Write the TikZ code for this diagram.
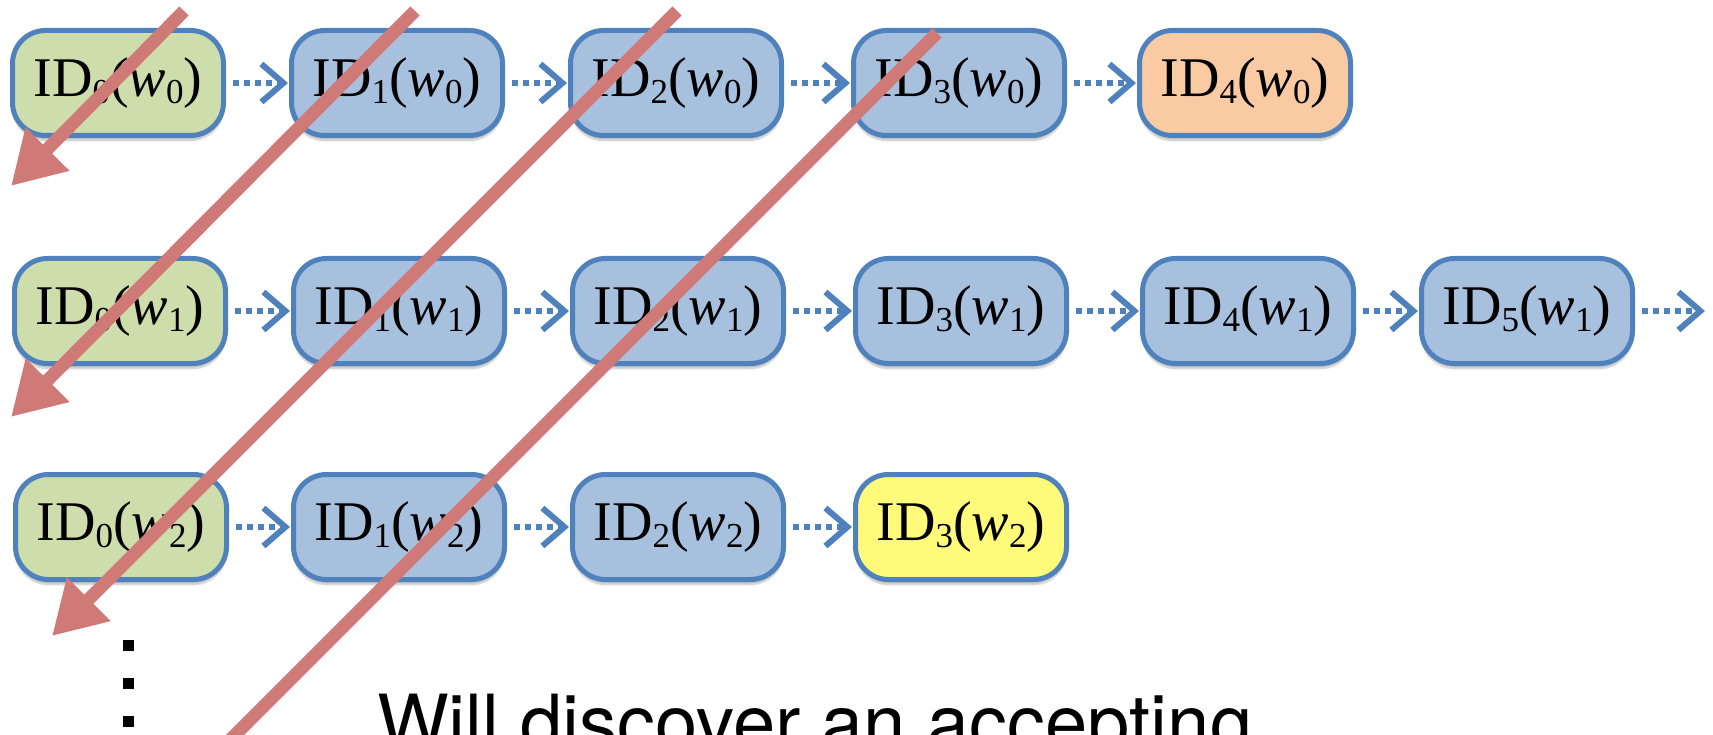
\documentclass[tikz,border=0pt]{standalone}
\usepackage{fontspec}
\setmainfont{Liberation Serif}
\newfontfamily\captionfont{TeX Gyre Heros}
\usetikzlibrary{arrows.meta,shadows.blur}
\definecolor{boxedge}{HTML}{4F81BD}
\definecolor{bluefill}{HTML}{A7C0DE}
\definecolor{greenfill}{HTML}{CDDDAC}
\definecolor{orangefill}{HTML}{FACBA3}
\definecolor{yellowfill}{HTML}{FFFA7A}
\definecolor{sweep}{HTML}{D07A78}
% lowered index digit
\newcommand\lo[1]{\raisebox{-0.12em}{\fontsize{35}{35}\selectfont #1}}
\newcommand\idw[2]{ID\lo{#1}(\textit{w}\lo{#2})}
\begin{document}
\begin{tikzpicture}[x=1pt,y=-1pt,
  idbox/.style={draw=boxedge, line width=5pt, rounded corners=33pt,
    minimum width=211pt, minimum height=105pt, inner sep=0pt,
    font=\fontsize{56}{56}\selectfont,
    blur shadow={shadow xshift=0pt, shadow yshift=-5pt, shadow opacity=25, shadow blur steps=6}},
  blue/.style={idbox, fill=bluefill},
  green/.style={idbox, fill=greenfill},
  orange/.style={idbox, fill=orangefill},
  yellow/.style={idbox, fill=yellowfill},
  nextstep/.style={draw=boxedge, line width=5.5pt, dash pattern=on 6pt off 5pt,
    shorten <=7pt, shorten >=1pt,
    -{Straight Barb[length=22pt,width=38pt,line width=6pt]}},
  sweepline/.style={draw=sweep, line width=13pt,
    -{Triangle[length=52pt,width=58pt]}},
  dot/.style={fill=black, minimum size=11pt, inner sep=0pt}]
\useasboundingbox (0,0) rectangle (1713,735);
\clip (0,0) rectangle (1713,735);

% word w0
\node[green]  (a0) at (118,83)  {\idw{0}{0}};
\node[blue]   (a1) at (397,83)  {\idw{1}{0}};
\node[blue]   (a2) at (676,83)  {\idw{2}{0}};
\node[blue]   (a3) at (959,83)  {\idw{3}{0}};
\node[orange] (a4) at (1245,83) {\idw{4}{0}};
% word w1
\node[green]  (b0) at (120,311)  {\idw{0}{1}};
\node[blue]   (b1) at (399,311)  {\idw{1}{1}};
\node[blue]   (b2) at (678,311)  {\idw{2}{1}};
\node[blue]   (b3) at (961,311)  {\idw{3}{1}};
\node[blue]   (b4) at (1248,311) {\idw{4}{1}};
\node[blue]   (b5) at (1527,311) {\idw{5}{1}};
\coordinate (bmore) at (1706,311);
% word w2
\node[green]  (c0) at (121,527) {\idw{0}{2}};
\node[blue]   (c1) at (399,527) {\idw{1}{2}};
\node[blue]   (c2) at (678,527) {\idw{2}{2}};
\node[yellow] (c3) at (961,527) {\idw{3}{2}};

% computation steps
\foreach \u/\v in {a0/a1,a1/a2,a2/a3,a3/a4,
                   b0/b1,b1/b2,b2/b3,b3/b4,b4/b5,
                   c0/c1,c1/c2,c2/c3}
  \draw[nextstep] (\u.east) -- (\v.west);
\draw[nextstep] (b5.east) -- (bmore);

% diagonal sweeps
\coordinate (s1) at (184,11);  \coordinate (t1) at (11,186);
\coordinate (s2) at (415,11);  \coordinate (t2) at (11,417);
\coordinate (s3) at (677,11);  \coordinate (t3) at (52,636);
\coordinate (s4) at (937,33);  \coordinate (t4) at (100,870);
\draw[sweepline] (s1) -- (t1);
\draw[sweepline] (s2) -- (t2);
\draw[sweepline] (s3) -- (t3);
\draw[sweepline] (s4) -- (t4);

% vertical ellipsis
\node[dot] (d1) at (128,645) {};
\node[dot] (d2) at (128,683) {};
\node[dot] (d3) at (128,721) {};

\node[anchor=base west, inner sep=0pt, font=\captionfont\fontsize{76}{76}\selectfont]
  (note) at (377,749) {Will discover an accepting};
\end{tikzpicture}
\end{document}
